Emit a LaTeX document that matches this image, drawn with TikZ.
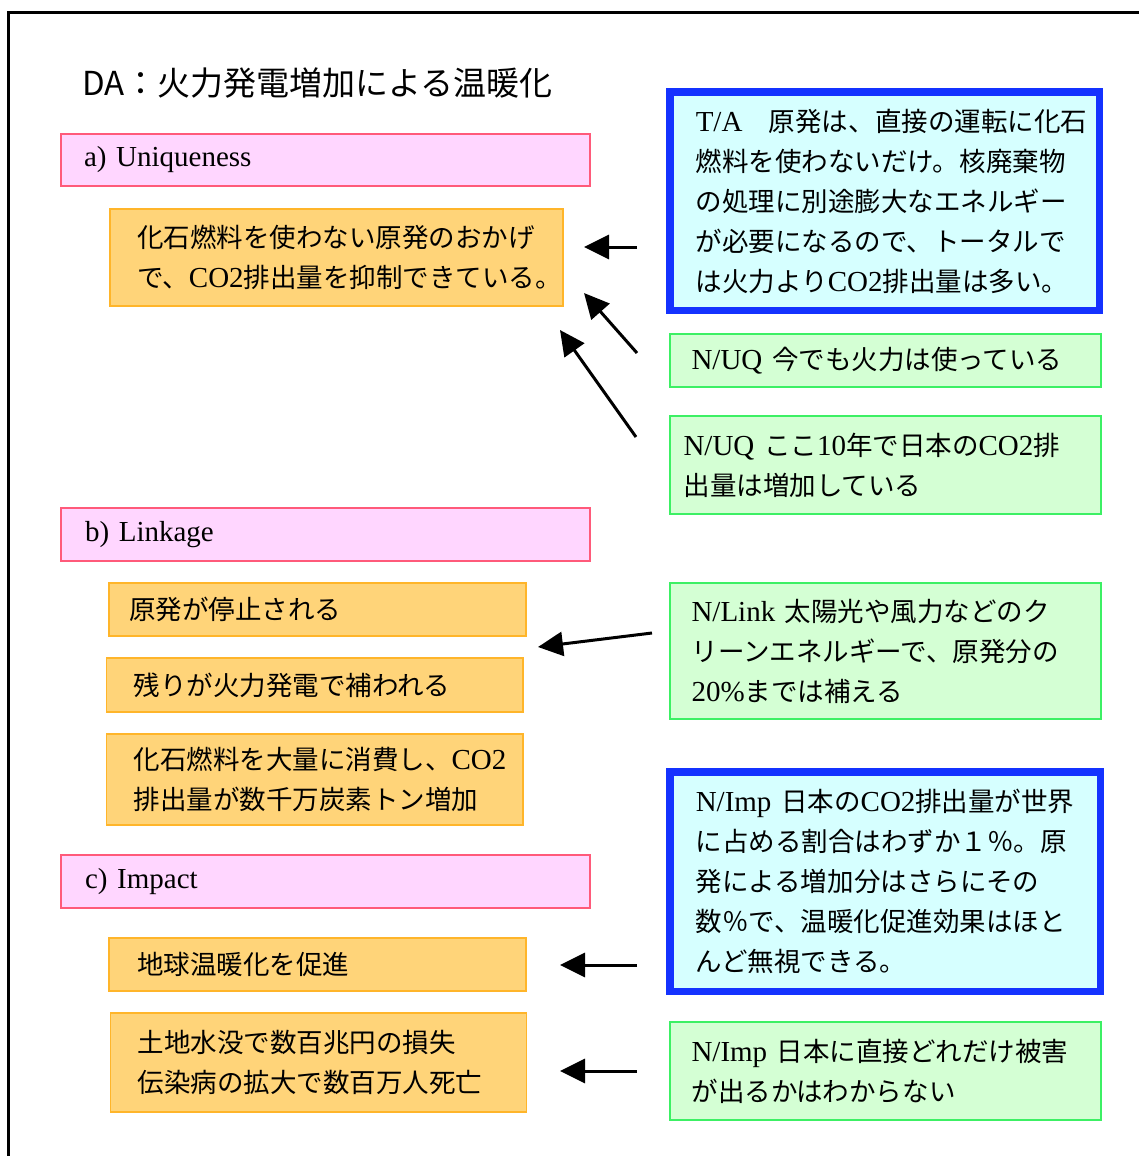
\documentclass[tikz,border=0pt]{standalone}
\usepackage{fontspec}
\setmainfont{Liberation Serif}
\newfontfamily\jp[Scale=0.914]{Noto Sans CJK JP}
\newfontfamily\jpt{Noto Sans CJK JP}
\usetikzlibrary{arrows.meta}
\definecolor{pinkF}{HTML}{FFD6FF}
\definecolor{pinkD}{HTML}{FF5A7A}
\definecolor{orgF}{HTML}{FFD479}
\definecolor{orgD}{HTML}{FFB52A}
\definecolor{cyanF}{HTML}{D6FFFF}
\definecolor{blueD}{HTML}{1432FF}
\definecolor{grnF}{HTML}{D4FFD4}
\definecolor{grnD}{HTML}{3CF064}
\tikzset{
  basebox/.style={anchor=north west, align=left, inner ysep=0pt, outer sep=0pt,
    font=\fontsize{29}{40}\selectfont},
  pinkbox/.style={basebox, draw=pinkD, fill=pinkF, line width=1.5},
  orgbox/.style={basebox, draw=orgD, fill=orgF, line width=1.5},
  bluebox/.style={basebox, draw=blueD, fill=cyanF, line width=7.5},
  grnbox/.style={basebox, draw=grnD, fill=grnF, line width=2},
  arr/.style={line width=3, -{Triangle[length=25pt,width=24pt]}},
}
\begin{document}
\begin{tikzpicture}[x=1pt,y=-1pt]
\useasboundingbox (0,0) rectangle (1138,1156);
\fill[white] (0,0) rectangle (1138,1156);
% frame
\draw[line width=2.5] (8.7,1160) -- (8.7,12.7) -- (1142,12.7);
% title
\node (title) [anchor=west, inner sep=0pt, font=\jpt\fontsize{33}{40}\selectfont] at (82,83) {DA：火力発電増加による温暖化};

% left column
\node (pa) [pinkbox, minimum width=529, minimum height=52, inner xsep=23, text width=483] at (61,134) {a) Uniqueness};
\node (o1) [orgbox, minimum width=453, minimum height=97, inner xsep=27, text width=399] at (110,209)
  {{\jp 化石燃料を使わない原発のおかげ}\\{\jp で、}CO2{\jp 排出量を抑制できている。}};

\node (pb) [pinkbox, minimum width=529, minimum height=53, inner xsep=24, text width=481] at (61,508) {b) Linkage};
\node (ob1) [orgbox, minimum width=417, minimum height=53, inner xsep=20, text width=377] at (109,583) {{\jp 原発が停止される}};
\node (ob2) [orgbox, minimum width=416.5, minimum height=54, inner xsep=27, text width=362.5] at (106.5,658) {{\jp 残りが火力発電で補われる}};
\node (ob3) [orgbox, minimum width=416.5, minimum height=91, inner xsep=27, text width=362.5] at (106.5,734)
  {{\jp 化石燃料を大量に消費し、}CO2\\{\jp 排出量が数千万炭素トン増加}};

\node (pc) [pinkbox, minimum width=529, minimum height=53, inner xsep=24, text width=481] at (61,855) {c) Impact};
\node (oc1) [orgbox, minimum width=417, minimum height=53, inner xsep=28, text width=361] at (109,938) {{\jp 地球温暖化を促進}};
\node (oc2) [orgbox, minimum width=416, minimum height=99, inner xsep=27, text width=362] at (110.5,1013)
  {{\jp 土地水没で数百兆円の損失}\\{\jp 伝染病の拡大で数百万人死亡}};

% right column
\node (ta) [bluebox, minimum width=429.5, minimum height=218.5, inner xsep=26, text width=377.5] at (669.75,91.75)
  {T/A{\jp 　原発は、直接の運転に化石}\\{\jp 燃料を使わないだけ。核廃棄物}\\{\jp の処理に別途膨大なエネルギー}\\{\jp が必要になるので、トータルで}\\{\jp は火力より}CO2{\jp 排出量は多い。}};
\node (uq1) [grnbox, minimum width=431.5, minimum height=53, inner xsep=22, text width=387.5] at (669.5,334)
  {N/UQ~{\jp 今でも火力は使っている}};
\node (uq2) [grnbox, minimum width=431.5, minimum height=98, inner xsep=14, text width=403.5] at (669.5,416)
  {N/UQ~{\jp ここ}10{\jp 年で日本の}CO2{\jp 排}\\{\jp 出量は増加している}};
\node (lk) [grnbox, minimum width=431.5, minimum height=136, inner xsep=22, text width=387.5] at (669.5,583)
  {N/Link~{\jp 太陽光や風力などのク}\\{\jp リーンエネルギーで、原発分の}\\20\%{\jp までは補える}};
\node (im1) [bluebox, minimum width=430.5, minimum height=219.5, inner xsep=26, text width=378.5] at (669.75,771.75)
  {N/Imp~{\jp 日本の}CO2{\jp 排出量が世界}\\{\jp に占める割合はわずか１％。原}\\{\jp 発による増加分はさらにその}\\{\jp 数％で、温暖化促進効果はほと}\\{\jp んど無視できる。}};
\node (im2) [grnbox, minimum width=431.5, minimum height=98, inner xsep=22, text width=387.5] at (669.5,1022)
  {N/Imp~{\jp 日本に直接どれだけ被害}\\{\jp が出るかはわからない}};

% arrow end points
\coordinate (a1s) at (637,247);  \coordinate (a1e) at (584,247);
\coordinate (a2s) at (637,353);  \coordinate (a2e) at (584,293);
\coordinate (a3s) at (636,437);  \coordinate (a3e) at (560,330);
\coordinate (a4s) at (652,633);  \coordinate (a4e) at (538,647);
\coordinate (a5s) at (637,965);  \coordinate (a5e) at (560,965);
\coordinate (a6s) at (637,1071); \coordinate (a6e) at (560,1071);
\draw[arr] (a1s) -- (a1e);
\draw[arr] (a2s) -- (a2e);
\draw[arr] (a3s) -- (a3e);
\draw[arr] (a4s) -- (a4e);
\draw[arr] (a5s) -- (a5e);
\draw[arr] (a6s) -- (a6e);
\end{tikzpicture}
\end{document}
